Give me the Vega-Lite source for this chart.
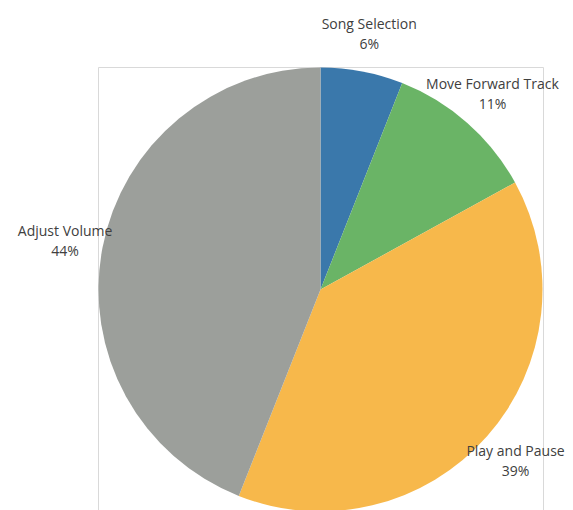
{
  "$schema": "https://vega.github.io/schema/vega-lite/v6.json",
  "autosize": "none",
  "width": 445,
  "height": 445,
  "padding": {"left": 98, "top": 67, "right": 30, "bottom": 0},
  "background": "white",
  "view": {"stroke": "#d9d9d9", "strokeWidth": 1, "fill": "white"},
  "data": {
    "values": [
      {"task": "Song Selection", "pct": 6, "k": 1},
      {"task": "Move Forward Track", "pct": 11, "k": 2},
      {"task": "Play and Pause", "pct": 39, "k": 3},
      {"task": "Adjust Volume", "pct": 44, "k": 4}
    ]
  },
  "encoding": {
    "theta": {"field": "pct", "type": "quantitative", "stack": true},
    "order": {"field": "k", "type": "quantitative"}
  },
  "layer": [
    {
      "mark": {"type": "arc", "outerRadius": 222},
      "encoding": {
        "color": {
          "field": "task",
          "type": "nominal",
          "scale": {
            "domain": ["Song Selection", "Move Forward Track", "Play and Pause", "Adjust Volume"],
            "range": ["#3a78ab", "#6ab466", "#f7b84b", "#9c9f9b"]
          },
          "legend": null
        }
      }
    },
    {
      "mark": {"type": "text", "radius": 260, "dy": -9, "font": "Open Sans", "fontSize": 14, "color": "#404040", "lineBreak": "\n", "lineHeight": 20, "baseline": "middle", "align": "center"},
      "encoding": {
        "text": {"field": "label", "type": "nominal"}
      },
      "transform": [{"calculate": "datum.task + '\\n' + datum.pct + '%'", "as": "label"}]
    }
  ]
}
